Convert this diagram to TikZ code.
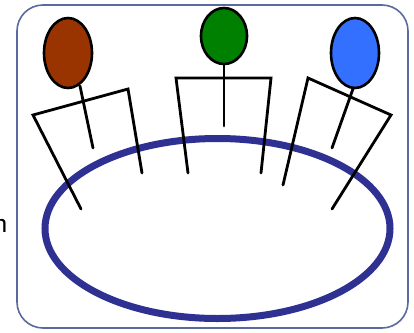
\documentclass[tikz,border=0pt]{standalone}
\usepackage{xcolor}
\usepackage{tikz}
\usetikzlibrary{shapes.geometric}
\definecolor{tbFrame}{HTML}{5B6A9C}
\definecolor{tbRing}{HTML}{2E3192}
\definecolor{tbBrown}{HTML}{993300}
\definecolor{tbGreen}{HTML}{008000}
\definecolor{tbBlue}{HTML}{3370FF}

\begin{document}
\begin{tikzpicture}[
  x=1pt, y=-1pt,
  frame/.style={draw=tbFrame, line width=1.6pt, rounded corners=26pt},
  ring/.style={ellipse, draw=tbRing, line width=7pt, inner sep=0pt,
               minimum width=345pt, minimum height=180pt},
  head/.style={ellipse, draw=black, line width=2.6pt, inner sep=0pt,
               minimum width=48pt, minimum height=70pt},
  limb/.style={draw=black, line width=2.8pt, line cap=round, line join=miter},
]
\useasboundingbox (0,0) rectangle (414,332);

% ── Frame, cut-off label and table ───────────────────────────────────────────
\draw[frame] (17,5) rectangle (408,328);
\node[font=\sffamily\fontsize{30}{30}\selectfont, anchor=base east, inner sep=0pt]
  (cut) at (8,232) {n};
\node[ring] (table) at (217.5,228.5) {};

% ── Brown figure ─────────────────────────────────────────────────────────────
\coordinate (bneck) at (80,86);
\coordinate (bwaist) at (93,148);
\coordinate (bsl) at (33,115);
\coordinate (bsr) at (128,89);
\coordinate (bfl) at (81,209);
\coordinate (bfr) at (142,173);
\draw[limb] (bneck) -- (bwaist);
\draw[limb] (bfl) -- (bsl) -- (bsr) -- (bfr);
\node[head, fill=tbBrown] (hbrown) at (68,53) {};

% ── Green figure ─────────────────────────────────────────────────────────────
\coordinate (gneck) at (224,64);
\coordinate (gwaist) at (224,126);
\coordinate (gsl) at (176,78);
\coordinate (gsr) at (271,78);
\coordinate (gfl) at (188,173);
\coordinate (gfr) at (261,173);
\draw[limb] (gneck) -- (gwaist);
\draw[limb] (gfl) -- (gsl) -- (gsr) -- (gfr);
\node[head, fill=tbGreen, minimum width=46pt, minimum height=56pt] (hgreen) at (224,36) {};

% ── Blue figure ──────────────────────────────────────────────────────────────
\coordinate (uneck) at (354,86);
\coordinate (uwaist) at (332,148);
\coordinate (usl) at (308,78);
\coordinate (usr) at (391,115);
\coordinate (ufl) at (283,185);
\coordinate (ufr) at (332,209);
\draw[limb] (uneck) -- (uwaist);
\draw[limb] (ufl) -- (usl) -- (usr) -- (ufr);
\node[head, fill=tbBlue] (hblue) at (355,53) {};

\end{tikzpicture}
\end{document}
